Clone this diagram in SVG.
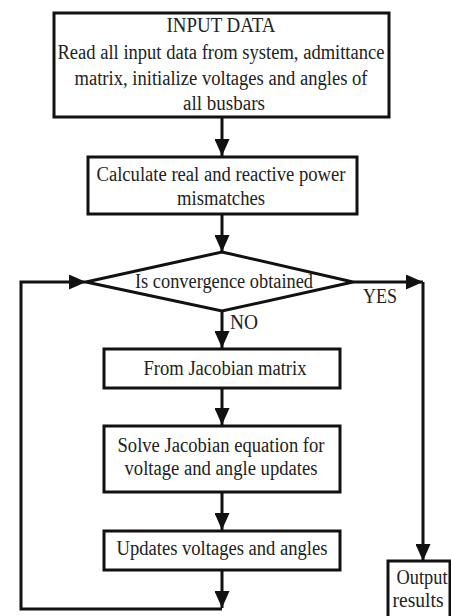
<svg xmlns="http://www.w3.org/2000/svg" width="451" height="616" viewBox="0 0 451 616">
<style>
.box{fill:#fff;stroke:#111;stroke-width:3}
.ln{fill:none;stroke:#111;stroke-width:3}
text{font-family:"Liberation Serif","Times New Roman",serif;font-size:20px;fill:#222;text-anchor:middle}
</style>
<defs>
<marker id="ah" viewBox="0 0 17 15" refX="17" refY="7.5" markerWidth="17" markerHeight="15" markerUnits="userSpaceOnUse" orient="auto">
<path d="M0,0 L17,7.5 L0,15 Z" fill="#111"/>
</marker>
</defs>
<rect width="451" height="616" fill="#fff"/>
<g id="connectors">
<line class="ln" x1="222" y1="118" x2="222" y2="156" marker-end="url(#ah)"/>
<line class="ln" x1="222" y1="214" x2="222" y2="252" marker-end="url(#ah)"/>
<line class="ln" x1="222" y1="311" x2="222" y2="348" marker-end="url(#ah)"/>
<line class="ln" x1="222" y1="388" x2="222" y2="425" marker-end="url(#ah)"/>
<line class="ln" x1="222" y1="492" x2="222" y2="530" marker-end="url(#ah)"/>
<line class="ln" x1="222" y1="570" x2="222" y2="608" marker-end="url(#ah)"/>
<polyline class="ln" points="222,609 21,609 21,282 86,282" marker-end="url(#ah)"/>
<line class="ln" x1="353" y1="282" x2="423" y2="282" marker-end="url(#ah)"/>
<line class="ln" x1="423" y1="282" x2="423" y2="561" marker-end="url(#ah)"/>
<text x="380" y="303" textLength="34" lengthAdjust="spacingAndGlyphs">YES</text>
<text x="244" y="329" textLength="28" lengthAdjust="spacingAndGlyphs">NO</text>
</g>
<g id="input">
<rect class="box" x="54" y="13" width="335" height="104"/>
<text x="221" y="32" textLength="109" lengthAdjust="spacingAndGlyphs">INPUT DATA</text>
<text x="221" y="59" textLength="327" lengthAdjust="spacingAndGlyphs">Read all input data from system, admittance</text>
<text x="221" y="85" textLength="293" lengthAdjust="spacingAndGlyphs">matrix, initialize voltages and angles of</text>
<text x="224" y="110" textLength="82" lengthAdjust="spacingAndGlyphs">all busbars</text>
</g>
<g id="mismatch">
<rect class="box" x="88" y="157" width="269" height="57"/>
<text x="221" y="181" textLength="249" lengthAdjust="spacingAndGlyphs">Calculate real and reactive power</text>
<text x="221" y="205" textLength="88" lengthAdjust="spacingAndGlyphs">mismatches</text>
</g>
<g id="decision">
<polygon class="box" points="222,252 353,282 222,311 86,282"/>
<text x="224" y="288" textLength="178" lengthAdjust="spacingAndGlyphs">Is convergence obtained</text>
</g>
<g id="jacobian">
<rect class="box" x="104" y="349" width="236" height="39"/>
<text x="225" y="375" textLength="163" lengthAdjust="spacingAndGlyphs">From Jacobian matrix</text>
</g>
<g id="solve">
<rect class="box" x="104" y="426" width="236" height="66"/>
<text x="221" y="452" textLength="207" lengthAdjust="spacingAndGlyphs">Solve Jacobian equation for</text>
<text x="221" y="475" textLength="193" lengthAdjust="spacingAndGlyphs">voltage and angle updates</text>
</g>
<g id="update">
<rect class="box" x="104" y="531" width="236" height="39"/>
<text x="222" y="555" textLength="211" lengthAdjust="spacingAndGlyphs">Updates voltages and angles</text>
</g>
<g id="output">
<rect class="box" x="388" y="561" width="62" height="60"/>
<text x="422" y="584" textLength="51" lengthAdjust="spacingAndGlyphs">Output</text>
<text x="418" y="607" textLength="51" lengthAdjust="spacingAndGlyphs">results</text>
</g>
</svg>
